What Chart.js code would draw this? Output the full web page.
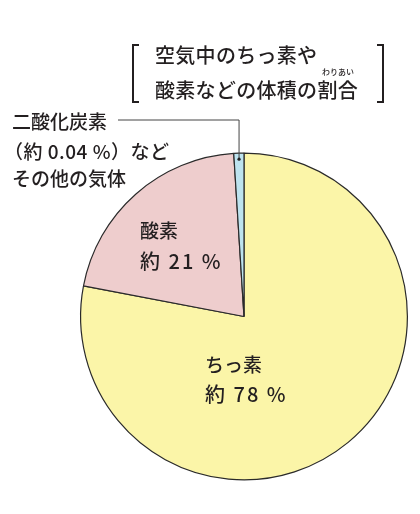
<!DOCTYPE html>
<html>
<head>
<meta charset="utf-8">
<script src="https://cdn.jsdelivr.net/npm/chart.js@4"></script>
<style>
  html, body { margin: 0; padding: 0; background: #fff; }
  #wrap { width: 420px; height: 514px; position: relative; }
</style>
</head>
<body>
<div id="wrap"><canvas id="myChart" width="420" height="514"></canvas></div>
<script>
// 空気中の気体の体積の割合
let gasNames = ['ちっ素', '酸素', '二酸化炭素などその他の気体'];
let gasShares = [78, 21, 1];
let gasColors = ['#FBF5A8', '#EECDCD', '#BDE3EF'];

let titleLines = ['空気中のちっ素や', '酸素などの体積の割合'];
let rubyText = 'わりあい';
let otherLabel = ['二酸化炭素', '（約 0.04 %）など', 'その他の気体'];
let oxygenLabel = ['酸素', '約 21 %'];
let nitrogenLabel = ['ちっ素', '約 78 %'];

const FONT = '"Noto Sans CJK JP", "Noto Sans", sans-serif';
const INK = '#231f20';

const textPlugin = {
  id: 'textPlugin',
  afterDraw(chart) {
    const ctx = chart.ctx;
    ctx.save();
    ctx.fillStyle = INK;
    ctx.textBaseline = 'middle';
    ctx.textAlign = 'left';

    // title with brackets
    ctx.font = '500 20px ' + FONT;
    ctx.letterSpacing = '0.3px';
    ctx.fillText(titleLines[0], 155, 55);
    ctx.fillText(titleLines[1], 155, 90);
    ctx.letterSpacing = '0px';
    ctx.font = '500 8px ' + FONT;
    ctx.fillText(rubyText, 322, 72);

    ctx.strokeStyle = INK;
    ctx.lineWidth = 2;
    ctx.beginPath();
    ctx.moveTo(139, 45); ctx.lineTo(133, 45); ctx.lineTo(133, 102); ctx.lineTo(139, 102);
    ctx.moveTo(377, 45); ctx.lineTo(383, 45); ctx.lineTo(383, 102); ctx.lineTo(377, 102);
    ctx.stroke();

    // labels
    ctx.font = '500 19px ' + FONT;
    ctx.fillText(otherLabel[0], 12, 122);
    ctx.letterSpacing = '0.5px';
    ctx.fillText(otherLabel[1], 4, 152);
    ctx.letterSpacing = '0px';
    ctx.fillText(otherLabel[2], 12, 179);

    ctx.fillText(oxygenLabel[0], 140, 231);
    ctx.fillText(nitrogenLabel[0], 205, 365);
    ctx.font = '500 20px ' + FONT;
    ctx.letterSpacing = '2px';
    ctx.fillText(oxygenLabel[1], 140, 261);
    ctx.fillText(nitrogenLabel[1], 205, 394);
    ctx.letterSpacing = '0px';

    // leader line to the small slice
    const arc = chart.getDatasetMeta(0).data[2];
    const mid = (arc.startAngle + arc.endAngle) / 2;
    const r = arc.outerRadius - 6;
    const px = arc.x + Math.cos(mid) * r;
    const py = arc.y + Math.sin(mid) * r;
    ctx.strokeStyle = '#444';
    ctx.lineWidth = 1;
    ctx.beginPath();
    ctx.moveTo(118, 120);
    ctx.lineTo(px, 120);
    ctx.lineTo(px, py);
    ctx.stroke();
    ctx.fillStyle = INK;
    ctx.beginPath();
    ctx.arc(px, py, 1.6, 0, Math.PI * 2);
    ctx.fill();
    ctx.restore();
  }
};

new Chart(document.getElementById('myChart'), {
  type: 'pie',
  data: {
    labels: gasNames,
    datasets: [
      {
        data: gasShares,
        backgroundColor: gasColors,
        borderColor: '#2a2a2a',
        borderWidth: 1.2,
      },
    ],
  },
  options: {
    responsive: false,
    animation: false,
    layout: { padding: { left: 80, right: 12, top: 152, bottom: 33 } },
    plugins: {
      legend: { display: false },
      tooltip: { enabled: false },
    },
  },
  plugins: [textPlugin],
});
</script>
</body>
</html>
